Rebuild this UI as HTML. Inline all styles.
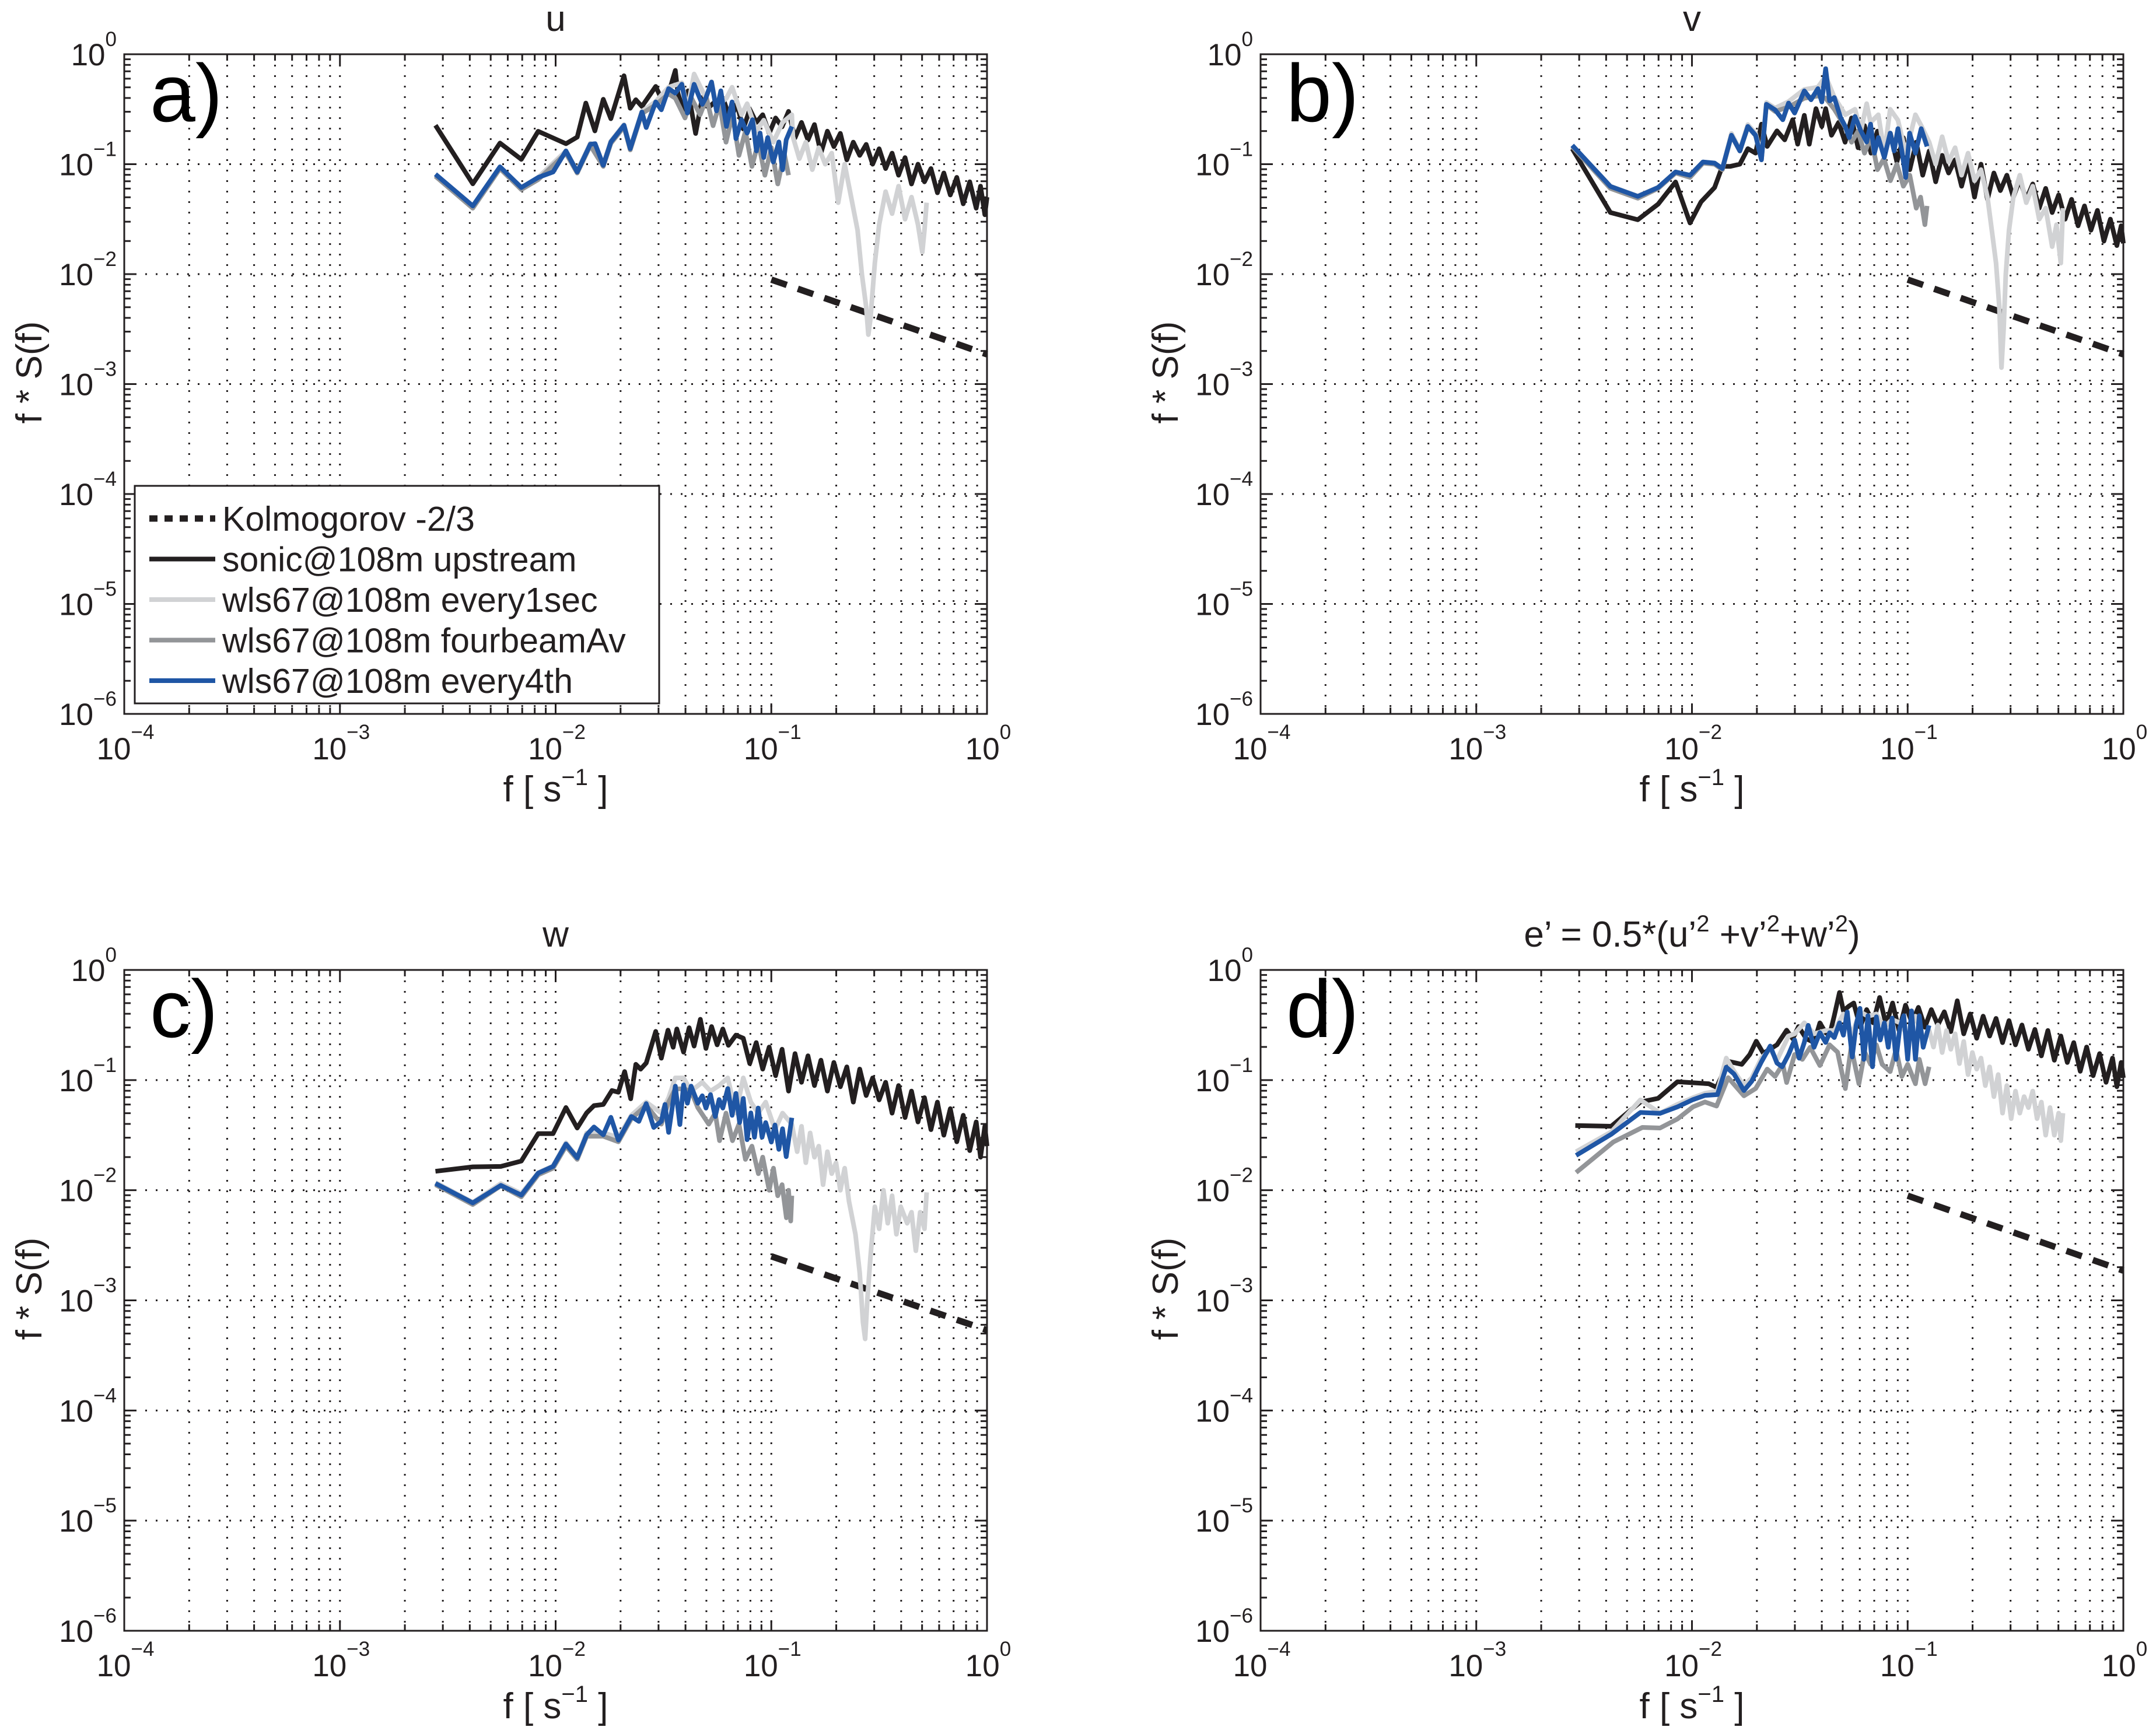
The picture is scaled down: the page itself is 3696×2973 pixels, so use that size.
<!DOCTYPE html>
<html><head><meta charset="utf-8"><style>
html,body{margin:0;padding:0;background:#fff;}
svg{display:block;font-family:"Liberation Sans",Arial,sans-serif;}
</style></head><body>
<svg id="fig" width="3696" height="2973" viewBox="0 0 3696 2973" xmlns="http://www.w3.org/2000/svg">
<rect x="0" y="0" width="3696" height="2973" fill="#fff"/>
</svg>
<script>
// ===== data (log10 f, log10 f*S) =====
const xTickExp = [-4,-3,-2,-1,0];
const yTickExp = [0,-1,-2,-3,-4,-5,-6];
const kolF = [-1, 0];
const aKolS = [-2.05,-2.73];
const bKolS = [-2.05,-2.73];
const cKolS = [-2.60,-3.27];
const dKolS = [-2.05,-2.73];

// panel a (u)
const aSonicF = [-2.557,-2.384,-2.258,-2.159,-2.081,-1.952,-1.900,-1.860,-1.818,-1.779,-1.744,-1.683,-1.654,-1.628,-1.600,-1.536,-1.502,-1.467,-1.445,-1.433,-1.407,-1.386,-1.351,-1.320,-1.285,-1.251,-1.22,-1.19,-1.16,-1.13,-1.10,-1.07,-1.04,-1.01,-0.98,-0.95,-0.92,-0.89,-0.86,-0.83,-0.80,-0.77,-0.74,-0.71,-0.68,-0.65,-0.62,-0.59,-0.56,-0.53,-0.50,-0.47,-0.44,-0.41,-0.38,-0.35,-0.32,-0.29,-0.26,-0.23,-0.20,-0.17,-0.14,-0.11,-0.08,-0.05,-0.03,-0.01,0];
const aSonicS = [-0.646,-1.178,-0.808,-0.956,-0.701,-0.814,-0.754,-0.444,-0.697,-0.410,-0.586,-0.196,-0.491,-0.414,-0.475,-0.293,-0.438,-0.293,-0.147,-0.354,-0.515,-0.333,-0.721,-0.394,-0.475,-0.414,-0.42,-0.60,-0.45,-0.68,-0.50,-0.62,-0.55,-0.72,-0.58,-0.66,-0.52,-0.76,-0.62,-0.78,-0.64,-0.90,-0.70,-0.84,-0.72,-0.96,-0.80,-0.92,-0.82,-1.00,-0.86,-1.04,-0.90,-1.10,-0.94,-1.18,-1.00,-1.16,-1.04,-1.26,-1.08,-1.28,-1.12,-1.36,-1.16,-1.40,-1.20,-1.46,-1.30];
const aLightF = [-2.557,-2.384,-2.258,-2.159,-2.081,-1.952,-1.900,-1.839,-1.779,-1.744,-1.683,-1.654,-1.600,-1.536,-1.476,-1.415,-1.389,-1.358,-1.303,-1.277,-1.254,-1.208,-1.182,-1.138,-1.112,-1.069,-1.035,-0.991,-0.948,-0.905,-0.90,-0.87,-0.84,-0.81,-0.78,-0.75,-0.72,-0.69,-0.66,-0.63,-0.60,-0.58,-0.56,-0.55,-0.54,-0.52,-0.50,-0.47,-0.44,-0.41,-0.38,-0.35,-0.32,-0.30,-0.29,-0.28];
const aLightS = [-1.10,-1.40,-1.03,-1.22,-1.12,-0.88,-1.06,-0.81,-1.00,-0.79,-0.64,-0.85,-0.52,-0.43,-0.30,-0.26,-0.50,-0.18,-0.40,-0.25,-0.48,-0.40,-0.30,-0.55,-0.45,-0.70,-0.60,-0.80,-0.62,-0.55,-0.75,-0.95,-0.80,-1.05,-0.85,-1.00,-0.90,-1.35,-1.00,-1.30,-1.60,-2.00,-2.30,-2.55,-2.40,-1.90,-1.55,-1.25,-1.45,-1.20,-1.50,-1.30,-1.55,-1.80,-1.60,-1.35];
const aGrayF = [-2.557,-2.384,-2.258,-2.159,-2.081,-1.952,-1.900,-1.839,-1.779,-1.744,-1.683,-1.654,-1.600,-1.536,-1.476,-1.445,-1.40,-1.37,-1.33,-1.30,-1.27,-1.24,-1.21,-1.18,-1.15,-1.12,-1.09,-1.06,-1.03,-1.00,-0.97,-0.94,-0.92];
const aGrayS = [-1.11,-1.40,-1.04,-1.23,-1.14,-0.90,-1.08,-0.83,-1.02,-0.81,-0.66,-0.87,-0.54,-0.46,-0.36,-0.40,-0.58,-0.40,-0.55,-0.40,-0.65,-0.45,-0.80,-0.55,-0.92,-0.70,-1.02,-0.80,-1.10,-0.85,-1.18,-0.90,-1.10];
const aBlueF = [-2.557,-2.384,-2.258,-2.159,-2.081,-2.012,-1.952,-1.900,-1.839,-1.817,-1.779,-1.744,-1.683,-1.654,-1.600,-1.580,-1.536,-1.510,-1.476,-1.445,-1.415,-1.389,-1.358,-1.320,-1.303,-1.277,-1.254,-1.234,-1.208,-1.182,-1.164,-1.138,-1.112,-1.087,-1.069,-1.052,-1.035,-1.017,-0.991,-0.965,-0.948,-0.931,-0.905];
const aBlueS = [-1.091,-1.380,-1.024,-1.212,-1.121,-1.071,-0.879,-1.071,-0.818,-0.814,-1.010,-0.798,-0.646,-0.859,-0.525,-0.667,-0.434,-0.505,-0.313,-0.354,-0.273,-0.535,-0.273,-0.455,-0.394,-0.253,-0.515,-0.333,-0.657,-0.434,-0.768,-0.596,-0.717,-0.596,-0.879,-0.717,-0.939,-0.758,-0.980,-0.798,-1.051,-0.778,-0.657];

// panel b (v)
const bSonicF = [-2.555,-2.378,-2.251,-2.157,-2.076,-2.009,-1.958,-1.895,-1.859,-1.823,-1.778,-1.741,-1.705,-1.678,-1.651,-1.606,-1.570,-1.533,-1.510,-1.479,-1.456,-1.425,-1.398,-1.380,-1.353,-1.32,-1.29,-1.26,-1.23,-1.20,-1.17,-1.14,-1.11,-1.08,-1.05,-1.02,-0.99,-0.96,-0.93,-0.90,-0.87,-0.84,-0.81,-0.78,-0.75,-0.72,-0.69,-0.66,-0.63,-0.60,-0.57,-0.54,-0.51,-0.48,-0.45,-0.42,-0.39,-0.36,-0.33,-0.30,-0.27,-0.24,-0.21,-0.18,-0.15,-0.12,-0.09,-0.06,-0.03,-0.01,0];
const bSonicS = [-0.859,-1.440,-1.505,-1.364,-1.162,-1.535,-1.343,-1.212,-1.020,-1.020,-1.000,-0.859,-0.899,-0.636,-0.838,-0.697,-0.778,-0.596,-0.818,-0.556,-0.818,-0.495,-0.657,-0.495,-0.737,-0.62,-0.80,-0.58,-0.85,-0.65,-0.90,-0.70,-0.92,-0.72,-0.98,-0.76,-1.05,-0.80,-1.10,-0.88,-1.16,-0.92,-1.08,-0.96,-1.20,-0.98,-1.30,-1.00,-1.32,-1.08,-1.24,-1.10,-1.30,-1.14,-1.32,-1.18,-1.40,-1.22,-1.44,-1.28,-1.50,-1.32,-1.56,-1.38,-1.60,-1.42,-1.70,-1.50,-1.74,-1.56,-1.72];
const bLightF = [-2.555,-2.378,-2.251,-2.157,-2.076,-2.009,-1.949,-1.895,-1.859,-1.817,-1.778,-1.741,-1.705,-1.678,-1.655,-1.615,-1.552,-1.479,-1.416,-1.380,-1.340,-1.289,-1.244,-1.217,-1.190,-1.172,-1.136,-1.108,-1.081,-1.045,-1.009,-0.964,-0.937,-0.90,-0.87,-0.84,-0.81,-0.78,-0.75,-0.72,-0.69,-0.66,-0.63,-0.61,-0.59,-0.575,-0.565,-0.555,-0.545,-0.53,-0.51,-0.48,-0.45,-0.42,-0.39,-0.36,-0.33,-0.31,-0.29,-0.28];
const bLightS = [-0.83,-1.20,-1.29,-1.21,-1.07,-1.10,-0.98,-0.99,-1.04,-0.72,-0.87,-0.64,-0.72,-0.94,-0.44,-0.49,-0.43,-0.32,-0.30,-0.20,-0.39,-0.55,-0.50,-0.70,-0.45,-0.62,-0.55,-0.90,-0.50,-0.60,-0.90,-0.55,-0.65,-0.80,-1.00,-0.75,-0.98,-0.85,-1.10,-0.90,-1.15,-1.05,-1.30,-1.60,-1.90,-2.30,-2.85,-2.50,-2.00,-1.60,-1.30,-1.10,-1.35,-1.20,-1.50,-1.40,-1.75,-1.55,-1.90,-1.40];
const bGrayF = [-2.555,-2.378,-2.251,-2.157,-2.076,-2.009,-1.949,-1.895,-1.859,-1.817,-1.778,-1.741,-1.705,-1.678,-1.655,-1.615,-1.552,-1.479,-1.416,-1.380,-1.340,-1.29,-1.26,-1.23,-1.20,-1.17,-1.14,-1.11,-1.08,-1.05,-1.02,-0.99,-0.96,-0.94,-0.92,-0.91];
const bGrayS = [-0.84,-1.22,-1.31,-1.22,-1.08,-1.12,-0.99,-1.00,-1.05,-0.74,-0.88,-0.66,-0.74,-0.96,-0.46,-0.52,-0.48,-0.40,-0.38,-0.40,-0.50,-0.66,-0.80,-0.70,-0.90,-0.75,-1.05,-0.95,-1.15,-1.00,-1.20,-1.10,-1.40,-1.30,-1.55,-1.38];
const bBlueF = [-2.555,-2.378,-2.251,-2.157,-2.076,-2.009,-1.949,-1.895,-1.859,-1.817,-1.778,-1.741,-1.705,-1.678,-1.655,-1.615,-1.579,-1.552,-1.524,-1.479,-1.448,-1.416,-1.398,-1.380,-1.362,-1.340,-1.311,-1.289,-1.271,-1.244,-1.217,-1.190,-1.172,-1.154,-1.136,-1.108,-1.081,-1.063,-1.045,-1.027,-1.009,-0.991,-0.964,-0.937,-0.910];
const bBlueS = [-0.828,-1.202,-1.293,-1.212,-1.071,-1.101,-0.980,-0.990,-1.040,-0.737,-0.879,-0.657,-0.737,-0.960,-0.455,-0.505,-0.596,-0.444,-0.535,-0.333,-0.414,-0.313,-0.434,-0.131,-0.424,-0.394,-0.576,-0.657,-0.758,-0.566,-0.697,-0.798,-0.636,-0.899,-0.758,-0.939,-0.717,-0.879,-0.677,-0.879,-1.121,-0.717,-0.899,-0.677,-0.838];

// panel c (w)
const cSonicF = [-2.557,-2.384,-2.254,-2.159,-2.081,-2.012,-1.952,-1.900,-1.856,-1.822,-1.779,-1.739,-1.709,-1.680,-1.652,-1.628,-1.606,-1.580,-1.536,-1.510,-1.479,-1.455,-1.438,-1.407,-1.381,-1.358,-1.329,-1.303,-1.277,-1.251,-1.225,-1.199,-1.164,-1.13,-1.10,-1.07,-1.04,-1.01,-0.98,-0.95,-0.92,-0.89,-0.86,-0.83,-0.80,-0.77,-0.74,-0.71,-0.68,-0.65,-0.62,-0.59,-0.56,-0.53,-0.50,-0.47,-0.44,-0.41,-0.38,-0.35,-0.32,-0.29,-0.26,-0.23,-0.20,-0.17,-0.14,-0.11,-0.08,-0.05,-0.03,-0.01,0];
const cSonicS = [-1.828,-1.788,-1.784,-1.735,-1.486,-1.486,-1.249,-1.435,-1.298,-1.232,-1.221,-1.095,-1.110,-0.923,-1.170,-0.857,-0.901,-0.845,-0.558,-0.801,-0.547,-0.702,-0.536,-0.746,-0.525,-0.691,-0.448,-0.713,-0.514,-0.680,-0.536,-0.684,-0.592,-0.62,-0.85,-0.66,-0.90,-0.70,-0.96,-0.72,-1.10,-0.76,-1.02,-0.78,-1.05,-0.82,-1.10,-0.84,-1.06,-0.88,-1.20,-0.90,-1.14,-0.98,-1.18,-1.02,-1.30,-1.05,-1.34,-1.10,-1.38,-1.16,-1.45,-1.20,-1.50,-1.26,-1.56,-1.32,-1.64,-1.38,-1.70,-1.42,-1.60];
const cLightF = [-2.557,-2.384,-2.254,-2.159,-2.081,-2.012,-1.952,-1.900,-1.856,-1.779,-1.709,-1.649,-1.580,-1.510,-1.476,-1.445,-1.407,-1.372,-1.320,-1.282,-1.242,-1.202,-1.164,-1.130,-1.095,-1.061,-1.026,-0.983,-0.948,-0.905,-0.90,-0.88,-0.86,-0.84,-0.82,-0.80,-0.78,-0.76,-0.74,-0.72,-0.70,-0.68,-0.66,-0.64,-0.61,-0.59,-0.575,-0.565,-0.555,-0.54,-0.52,-0.50,-0.48,-0.46,-0.44,-0.42,-0.40,-0.37,-0.35,-0.33,-0.31,-0.29,-0.28];
const cLightS = [-1.93,-2.11,-1.94,-2.03,-1.84,-1.78,-1.57,-1.70,-1.48,-1.48,-1.52,-1.32,-1.20,-1.30,-1.16,-0.98,-0.98,-1.10,-1.02,-1.10,-1.05,-0.98,-1.30,-0.98,-1.20,-1.30,-1.20,-1.45,-1.30,-1.40,-1.45,-1.65,-1.42,-1.75,-1.48,-1.70,-1.60,-1.95,-1.65,-1.85,-1.75,-2.00,-1.80,-2.10,-2.40,-2.75,-3.20,-3.35,-3.00,-2.60,-2.15,-2.35,-2.00,-2.30,-2.05,-2.40,-2.15,-2.30,-2.20,-2.55,-2.20,-2.35,-2.02];
const cGrayF = [-2.557,-2.384,-2.254,-2.159,-2.081,-2.012,-1.952,-1.900,-1.856,-1.779,-1.709,-1.649,-1.580,-1.510,-1.476,-1.445,-1.407,-1.372,-1.341,-1.29,-1.26,-1.24,-1.21,-1.18,-1.15,-1.12,-1.09,-1.06,-1.04,-1.01,-0.99,-0.97,-0.95,-0.93,-0.92,-0.91,-0.905];
const cGrayS = [-1.95,-2.13,-1.96,-2.06,-1.86,-1.80,-1.60,-1.72,-1.51,-1.51,-1.56,-1.35,-1.23,-1.40,-1.20,-1.08,-1.08,-1.10,-1.25,-1.40,-1.30,-1.55,-1.30,-1.55,-1.40,-1.72,-1.60,-1.85,-1.70,-2.00,-1.80,-2.05,-1.95,-2.25,-2.00,-2.28,-2.05];
const cBlueF = [-2.557,-2.384,-2.254,-2.159,-2.081,-2.012,-1.952,-1.900,-1.856,-1.822,-1.779,-1.744,-1.709,-1.649,-1.614,-1.580,-1.545,-1.510,-1.493,-1.476,-1.445,-1.424,-1.407,-1.389,-1.372,-1.341,-1.320,-1.303,-1.282,-1.260,-1.242,-1.225,-1.202,-1.182,-1.164,-1.147,-1.130,-1.112,-1.095,-1.078,-1.061,-1.043,-1.026,-1.000,-0.983,-0.965,-0.948,-0.931,-0.905];
const cBlueS = [-1.938,-2.115,-1.956,-2.044,-1.845,-1.784,-1.581,-1.706,-1.497,-1.426,-1.497,-1.338,-1.545,-1.331,-1.375,-1.214,-1.430,-1.375,-1.221,-1.475,-1.055,-1.404,-1.044,-1.210,-1.055,-1.210,-1.143,-1.254,-1.132,-1.331,-1.177,-1.254,-1.077,-1.320,-1.121,-1.386,-1.166,-1.541,-1.298,-1.519,-1.254,-1.519,-1.386,-1.563,-1.408,-1.629,-1.442,-1.695,-1.342];

// panel d (e')
const dSonicF = [-2.541,-2.374,-2.239,-2.157,-2.067,-1.922,-1.886,-1.832,-1.769,-1.732,-1.702,-1.669,-1.642,-1.606,-1.561,-1.533,-1.506,-1.470,-1.434,-1.407,-1.380,-1.362,-1.340,-1.316,-1.298,-1.271,-1.25,-1.22,-1.19,-1.16,-1.13,-1.10,-1.07,-1.04,-1.01,-0.98,-0.95,-0.92,-0.89,-0.86,-0.83,-0.80,-0.77,-0.74,-0.71,-0.68,-0.65,-0.62,-0.59,-0.56,-0.53,-0.50,-0.47,-0.44,-0.41,-0.38,-0.35,-0.32,-0.29,-0.26,-0.23,-0.20,-0.17,-0.14,-0.11,-0.08,-0.05,-0.03,-0.01,0];
const dSonicS = [-1.413,-1.419,-1.199,-1.166,-1.015,-1.033,-1.066,-0.830,-0.857,-0.768,-0.647,-0.757,-0.724,-0.680,-0.547,-0.625,-0.514,-0.625,-0.658,-0.481,-0.570,-0.592,-0.415,-0.205,-0.371,-0.327,-0.30,-0.52,-0.36,-0.48,-0.25,-0.50,-0.30,-0.55,-0.32,-0.48,-0.34,-0.52,-0.36,-0.50,-0.38,-0.56,-0.28,-0.58,-0.40,-0.62,-0.42,-0.60,-0.44,-0.66,-0.46,-0.68,-0.50,-0.72,-0.54,-0.78,-0.55,-0.82,-0.60,-0.84,-0.66,-0.92,-0.70,-0.96,-0.76,-1.02,-0.80,-1.06,-0.84,-0.98];
const dLightF = [-2.537,-2.374,-2.239,-2.148,-2.067,-1.995,-1.940,-1.882,-1.841,-1.805,-1.759,-1.723,-1.678,-1.637,-1.606,-1.552,-1.524,-1.479,-1.434,-1.380,-1.340,-1.298,-1.257,-1.221,-1.184,-1.145,-1.108,-1.072,-1.036,-1.000,-0.964,-0.928,-0.90,-0.88,-0.86,-0.84,-0.82,-0.80,-0.78,-0.76,-0.74,-0.72,-0.70,-0.68,-0.66,-0.64,-0.62,-0.60,-0.58,-0.56,-0.54,-0.52,-0.50,-0.48,-0.46,-0.44,-0.42,-0.40,-0.38,-0.36,-0.34,-0.32,-0.30,-0.29,-0.28];
const dLightS = [-1.65,-1.47,-1.18,-1.30,-1.22,-1.16,-1.12,-1.10,-0.80,-0.92,-1.05,-0.98,-0.80,-0.72,-0.82,-0.60,-0.58,-0.48,-0.58,-0.55,-0.55,-0.40,-0.58,-0.38,-0.42,-0.40,-0.52,-0.45,-0.48,-0.60,-0.42,-0.62,-0.55,-0.70,-0.50,-0.75,-0.55,-0.72,-0.58,-0.85,-0.65,-0.95,-0.75,-0.90,-0.80,-1.05,-0.88,-1.15,-0.95,-1.30,-1.05,-1.35,-1.10,-1.30,-1.15,-1.25,-1.10,-1.35,-1.20,-1.50,-1.25,-1.50,-1.30,-1.55,-1.30];
const dGrayF = [-2.537,-2.365,-2.230,-2.148,-2.067,-1.995,-1.940,-1.886,-1.832,-1.759,-1.705,-1.651,-1.615,-1.579,-1.561,-1.524,-1.488,-1.452,-1.407,-1.362,-1.325,-1.289,-1.262,-1.226,-1.199,-1.172,-1.145,-1.118,-1.081,-1.054,-1.027,-1.000,-0.964,-0.946,-0.919,-0.901];
const dGrayS = [-1.839,-1.563,-1.430,-1.435,-1.353,-1.243,-1.199,-1.236,-0.978,-1.143,-1.077,-0.901,-0.967,-0.857,-1.022,-0.768,-0.812,-0.702,-0.868,-0.680,-0.746,-1.077,-0.702,-1.033,-0.746,-0.857,-0.680,-0.857,-0.923,-0.724,-0.967,-0.857,-1.033,-0.812,-1.033,-0.879];
const dBlueF = [-2.537,-2.374,-2.239,-2.148,-2.067,-1.995,-1.940,-1.882,-1.841,-1.805,-1.759,-1.723,-1.678,-1.637,-1.606,-1.582,-1.552,-1.524,-1.503,-1.479,-1.461,-1.434,-1.407,-1.380,-1.362,-1.340,-1.316,-1.298,-1.280,-1.257,-1.239,-1.221,-1.203,-1.184,-1.163,-1.145,-1.127,-1.108,-1.090,-1.072,-1.054,-1.036,-1.018,-1.000,-0.982,-0.964,-0.946,-0.928,-0.901];
const dBlueS = [-1.684,-1.492,-1.294,-1.302,-1.243,-1.177,-1.139,-1.132,-0.883,-0.945,-1.095,-1.011,-0.834,-0.691,-0.845,-0.879,-0.768,-0.636,-0.801,-0.658,-0.503,-0.702,-0.570,-0.658,-0.570,-0.614,-0.481,-0.592,-0.382,-0.790,-0.503,-0.349,-0.812,-0.415,-0.879,-0.426,-0.636,-0.481,-0.702,-0.437,-0.812,-0.525,-0.415,-0.812,-0.371,-0.812,-0.415,-0.702,-0.503];

const COL = {sonic:'#231f20', light:'#d1d2d4', gray:'#939598', blue:'#1f56a5'};
const NS = 'http://www.w3.org/2000/svg';
const svg = document.getElementById('fig');

function mk(tag, attrs, parent){
  const e = document.createElementNS(NS, tag);
  for (const k in attrs) e.setAttribute(k, attrs[k]);
  (parent||svg).appendChild(e);
  return e;
}

function drawPanel(p){
  const W = 1479, H = p.H;
  const g = mk('g', {});
  
  
  const xs = lf => p.L + (lf + 4) * W / 4;
  const ys = ls => p.T + (-ls) * H / 6;
  // grid
  for (let d = -4; d < 0; d++) {
    for (let m = 1; m <= 9; m++) {
      const lf = d + Math.log10(m);
      if (lf <= -4) continue;
      const x = xs(lf);
      const gl = mk('line', {x1:x, y1:p.T, x2:x, y2:p.T+H, stroke:'#231f20', 'stroke-width':3, 'stroke-dasharray':'3 15'}, g);
      
      
    }
  }
  for (const e of yTickExp) {
    if (e === 0 || e === -6) continue;
    const y = ys(e);
    const gl = mk('line', {x1:p.L, y1:y, x2:p.L+W, y2:y, stroke:'#231f20', 'stroke-width':3, 'stroke-dasharray':'3 15'}, g);
    
    
  }
  // ticks
  let tk = '';
  for (let d = -4; d <= 0; d++) {
    for (let m = 1; m <= 9; m++) {
      const lf = d + Math.log10(m);
      if (lf > 0) break;
      const len = m === 1 ? 18 : 11;
      const x = xs(lf);
      tk += `M${x},${p.T+H}v${-len}M${x},${p.T}v${len}`;
    }
  }
  for (let d = -6; d <= 0; d++) {
    for (let m = 1; m <= 9; m++) {
      const ls = d + Math.log10(m);
      if (ls > 0) break;
      const len = m === 1 ? 18 : 11;
      const y = ys(ls);
      tk += `M${p.L},${y}h${len}M${p.L+W},${y}h${-len}`;
    }
  }
  const ticks = mk('path', {d:tk, stroke:'#231f20', 'stroke-width':3, fill:'none'}, g);
  
  
  // series
  function line(F, S, col, w, name, dash){
    let d = '';
    for (let i = 0; i < F.length; i++) d += (i ? 'L' : 'M') + xs(F[i]).toFixed(1) + ',' + ys(S[i]).toFixed(1);
    const a = {d:d, stroke:col, 'stroke-width':w, fill:'none', 'stroke-linejoin':'round'};
    if (dash) a['stroke-dasharray'] = dash;
    const e = mk('path', a, g);
    
    
  }
  line(kolF, p.kol, COL.sonic, 11, 'kolmogorov-line', '28 20');
  line(p.sF, p.sS, COL.sonic, 8, 'sonic-series');
  line(p.lF, p.lS, COL.light, 8, 'every1sec-series');
  line(p.gF, p.gS, COL.gray, 8, 'fourbeam-series');
  line(p.bF, p.bS, COL.blue, 8, 'every4th-series');
  // frame
  const fr = mk('rect', {x:p.L, y:p.T, width:W, height:H, fill:'none', stroke:'#231f20', 'stroke-width':3}, g);
  
  
  // tick labels
  for (const e of xTickExp) {
    const t = mk('text', {x:xs(e)+2, y:p.T+H+78, 'font-size':53, 'text-anchor':'middle', fill:'#231f20'}, g);
    
    
    t.appendChild(document.createTextNode('10'));
    const s = mk('tspan', {dy:-35, 'font-size':35}, t);
    s.textContent = e === 0 ? '0' : '\u2212' + (-e);
  }
  for (const e of yTickExp) {
    const t = mk('text', {x:p.L-13, y:ys(e)+19, 'font-size':53, 'text-anchor':'end', fill:'#231f20'}, g);
    
    
    t.appendChild(document.createTextNode('10'));
    const s = mk('tspan', {dy:-33, 'font-size':35}, t);
    s.textContent = e === 0 ? '0' : '\u2212' + (-e);
  }
  // axis labels
  const xl = mk('text', {x:p.L+W/2, y:p.T+H+150, 'font-size':62, 'text-anchor':'middle', fill:'#231f20'}, g);
  
  
  xl.appendChild(document.createTextNode('f [ s'));
  const xs1 = mk('tspan', {dy:-28, 'font-size':40}, xl); xs1.textContent = '\u22121';
  const xs2 = mk('tspan', {dy:28}, xl); xs2.textContent = ' ]';
  const cy = p.T + H/2 - 20;
  const yl = mk('text', {x:0, y:0, 'font-size':62, 'text-anchor':'middle', fill:'#231f20', transform:`translate(${p.L-142},${cy}) rotate(-90)`}, g);
  
  
  yl.textContent = 'f * S(f)';
  // title
  const tt = mk('text', {x:p.L+W/2, y:p.T-40, 'font-size':62, 'text-anchor':'middle', fill:'#231f20'}, g);
  
  
  if (p.id === 'd') {
    tt.appendChild(document.createTextNode('e\u2019 = 0.5*(u\u2019'));
    const a1 = mk('tspan', {dy:-26, 'font-size':40}, tt); a1.textContent = '2';
    const a2 = mk('tspan', {dy:26}, tt); a2.textContent = ' +v\u2019';
    const a3 = mk('tspan', {dy:-26, 'font-size':40}, tt); a3.textContent = '2';
    const a4 = mk('tspan', {dy:26}, tt); a4.textContent = '+w\u2019';
    const a5 = mk('tspan', {dy:-26, 'font-size':40}, tt); a5.textContent = '2';
    const a6 = mk('tspan', {dy:26}, tt); a6.textContent = ')';
  } else {
    tt.textContent = p.title;
  }
  // letter
  const lt = mk('text', {x:p.L+44, y:p.T+115, 'font-size':140, fill:'#000'}, g);
  
  
  lt.textContent = p.id + ')';
  return {xs, ys};
}

drawPanel({id:'a', title:'u', L:213, T:93, H:1131, kol:aKolS, sF:aSonicF, sS:aSonicS, lF:aLightF, lS:aLightS, gF:aGrayF, gS:aGrayS, bF:aBlueF, bS:aBlueS});
drawPanel({id:'b', title:'v', L:2161, T:93, H:1131, kol:bKolS, sF:bSonicF, sS:bSonicS, lF:bLightF, lS:bLightS, gF:bGrayF, gS:bGrayS, bF:bBlueF, bS:bBlueS});
drawPanel({id:'c', title:'w', L:213, T:1663, H:1133, kol:cKolS, sF:cSonicF, sS:cSonicS, lF:cLightF, lS:cLightS, gF:cGrayF, gS:cGrayS, bF:cBlueF, bS:cBlueS});
drawPanel({id:'d', title:'', L:2161, T:1663, H:1133, kol:dKolS, sF:dSonicF, sS:dSonicS, lF:dLightF, lS:dLightS, gF:dGrayF, gS:dGrayS, bF:dBlueF, bS:dBlueS});

// legend
const legendLabels = ['Kolmogorov -2/3','sonic@108m upstream','wls67@108m every1sec','wls67@108m fourbeamAv','wls67@108m every4th'];
const legendColors = [COL.sonic, COL.sonic, COL.light, COL.gray, COL.blue];
const lg = mk('g', {});


const lbox = mk('rect', {x:231, y:833, width:899, height:373, fill:'#fff', stroke:'#231f20', 'stroke-width':3}, lg);


legendLabels.forEach((lab, i) => {
  const y = 889 + i * 69.5;
  const a = {x1:256, y1:y, x2:369, y2:y, stroke:legendColors[i], 'stroke-width':i === 0 ? 11 : 8};
  if (i === 0) a['stroke-dasharray'] = '14 12';
  const s = mk('line', a, lg);
  
  
  const t = mk('text', {x:381, y:y+21, 'font-size':59, fill:'#231f20'}, lg);
  
  
  t.textContent = lab;
});
</script>
</body></html>
